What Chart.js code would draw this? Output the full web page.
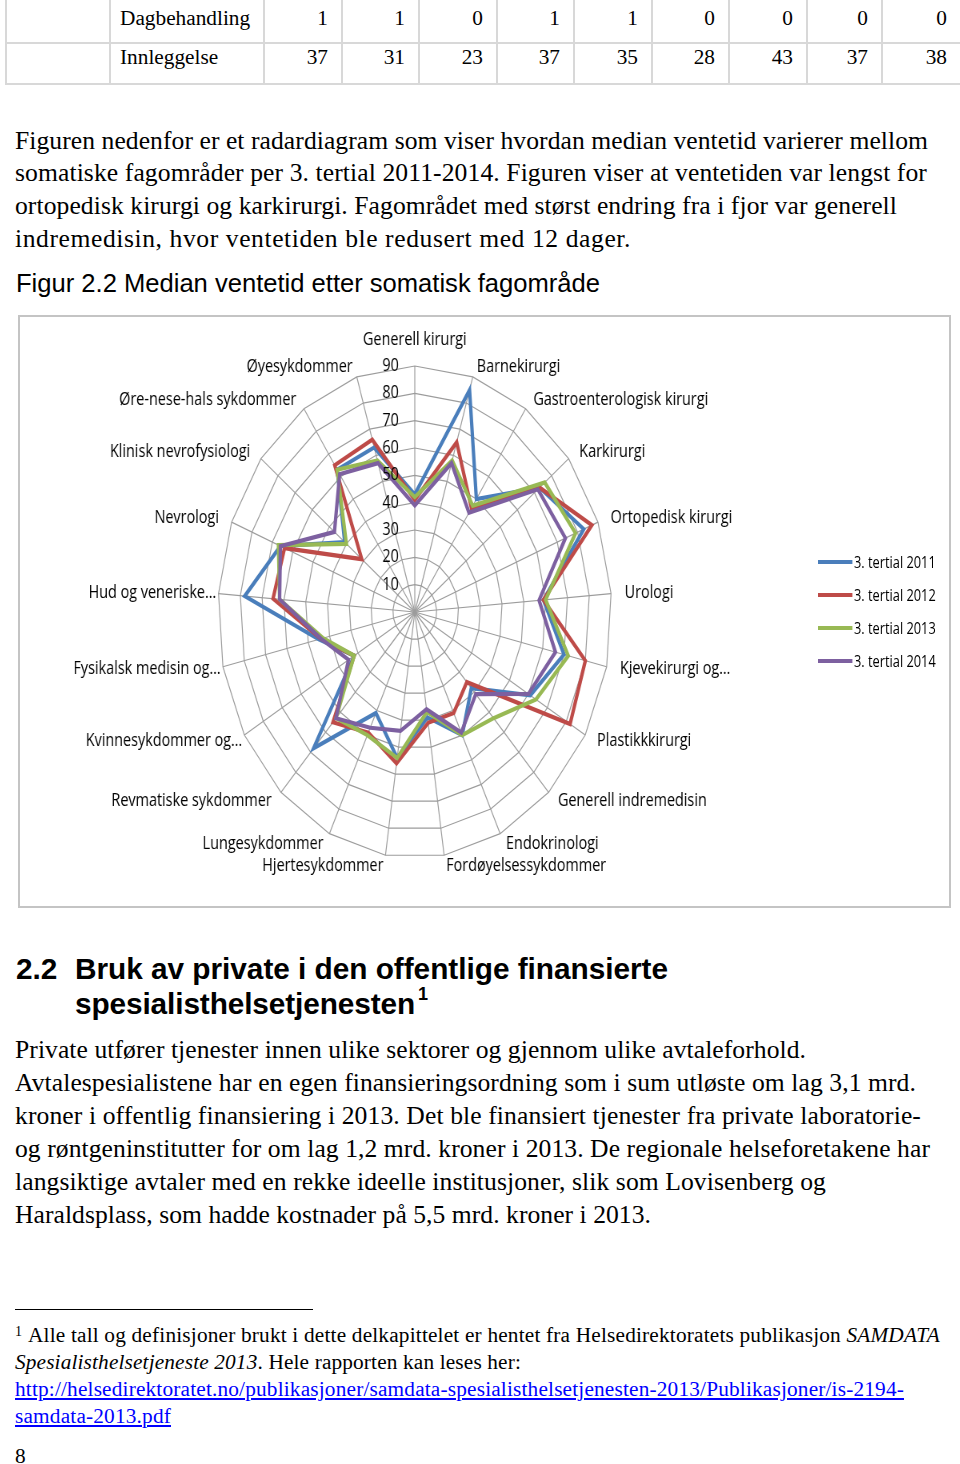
<!DOCTYPE html>
<html lang="no">
<head>
<meta charset="utf-8">
<title>Median ventetid etter somatisk fagområde</title>
<script src="https://cdn.jsdelivr.net/npm/chart.js@4.4.1/dist/chart.umd.min.js"></script>
<style>
  html, body { margin: 0; padding: 0; background: #fff; }
  body { position: relative; width: 960px; height: 1464px; overflow: hidden; color: #000; }
  .ln { position: absolute; white-space: nowrap; line-height: 1; }
  .serif { font-family: "Liberation Serif", "Times New Roman", serif; }
  .sans { font-family: "Liberation Sans", Arial, sans-serif; }
  .bold { font-weight: bold; }
  .grid { position: absolute; background: #d8d8d8; }
  #chartBox { position: absolute; left: 18px; top: 315px; width: 933px; height: 593px; box-sizing: border-box; border: 2px solid #c4c4c4; }
  #squish { position: absolute; left: 18px; top: 315px; width: 1165px; height: 592px; transform: scaleX(0.8); transform-origin: 0 0; }
  #legend div { position: absolute; }
  .leg-text { font-family: "Open Sans", sans-serif; font-size: 16px; line-height: 1; white-space: nowrap; }
  a { color: #0000ff; text-decoration: underline; }
  #rule { position: absolute; left: 15px; top: 1309px; width: 298px; height: 1px; background: #000; }
</style>
</head>
<body>

<div id="table"></div>

<div class="ln serif" data-b="149" data-w="913" style="left:15px;font-size:25.6px">Figuren nedenfor er et radardiagram som viser hvordan median ventetid varierer mellom</div>
<div class="ln serif" data-b="181.7" data-w="912" style="left:15px;font-size:25.6px">somatiske fagområder per 3. tertial 2011-2014. Figuren viser at ventetiden var lengst for</div>
<div class="ln serif" data-b="214.4" data-w="882" style="left:15px;font-size:25.6px">ortopedisk kirurgi og karkirurgi. Fagområdet med størst endring fra i fjor var generell</div>
<div class="ln serif" data-b="247" data-w="616" style="left:15px;font-size:25.6px">indremedisin, hvor ventetiden ble redusert med 12 dager.</div>

<div class="ln sans" data-b="293" data-w="584" style="left:16px;font-size:25.6px">Figur 2.2 Median ventetid etter somatisk fagområde</div>

<div id="chartBox"></div>
<div id="squish">
  <canvas id="radar" width="1165" height="592"></canvas>
  <div id="legend"></div>
</div>

<div class="ln sans bold" data-b="979" style="left:16px;font-size:29.8px">2.2</div>
<div class="ln sans bold" data-b="979" data-w="593" style="left:75px;font-size:29.8px">Bruk av private i den offentlige finansierte</div>
<div class="ln sans bold" data-b="1014.5" data-w="340" style="left:75px;font-size:29.8px">spesialisthelsetjenesten</div>
<div class="ln sans bold" data-b="1000" style="left:418px;font-size:18px">1</div>

<div class="ln serif" data-b="1058" data-w="791" style="left:15px;font-size:25.6px">Private utfører tjenester innen ulike sektorer og gjennom ulike avtaleforhold.</div>
<div class="ln serif" data-b="1091" data-w="901" style="left:15px;font-size:25.6px">Avtalespesialistene har en egen finansieringsordning som i sum utløste om lag 3,1 mrd.</div>
<div class="ln serif" data-b="1124" data-w="906" style="left:15px;font-size:25.6px">kroner i offentlig finansiering i 2013. Det ble finansiert tjenester fra private laboratorie-</div>
<div class="ln serif" data-b="1157" data-w="915" style="left:15px;font-size:25.6px">og røntgeninstitutter for om lag 1,2 mrd. kroner i 2013. De regionale helseforetakene har</div>
<div class="ln serif" data-b="1190" data-w="811" style="left:15px;font-size:25.6px">langsiktige avtaler med en rekke ideelle institusjoner, slik som Lovisenberg og</div>
<div class="ln serif" data-b="1223" data-w="636" style="left:15px;font-size:25.6px">Haraldsplass, som hadde kostnader på 5,5 mrd. kroner i 2013.</div>

<div id="rule"></div>
<div class="ln serif" data-b="1337" style="left:15px;font-size:14px">1</div>
<div class="ln serif" data-b="1343" data-w="912" style="left:28px;font-size:21.3px">Alle tall og definisjoner brukt i dette delkapittelet er hentet fra Helsedirektoratets publikasjon <i>SAMDATA</i></div>
<div class="ln serif" data-b="1370" data-w="506" style="left:15px;font-size:21.3px"><i>Spesialisthelsetjeneste 2013</i>. Hele rapporten kan leses her:</div>
<div class="ln serif" data-b="1397" data-w="889" style="left:15px;font-size:21.3px"><a>http://helsedirektoratet.no/publikasjoner/samdata-spesialisthelsetjenesten-2013/Publikasjoner/is-2194-</a></div>
<div class="ln serif" data-b="1424" data-w="156" style="left:15px;font-size:21.3px"><a>samdata-2013.pdf</a></div>
<div class="ln serif" data-b="1464" style="left:15px;font-size:21.3px">8</div>

<script>
// table above the figure
const rowLabels = ['Dagbehandling', 'Innleggelse'];
const dagValues = [1, 1, 0, 1, 1, 0, 0, 0, 0];
const innValues = [37, 31, 23, 37, 35, 28, 43, 37, 38];

// radar chart data
const categories = [
  'Generell kirurgi', 'Barnekirurgi', 'Gastroenterologisk kirurgi', 'Karkirurgi',
  'Ortopedisk kirurgi', 'Urologi', 'Kjevekirurgi og…', 'Plastikkkirurgi',
  'Generell indremedisin', 'Endokrinologi', 'Fordøyelsessykdommer', 'Hjertesykdommer',
  'Lungesykdommer', 'Revmatiske sykdommer', 'Kvinnesykdommer og…', 'Fysikalsk medisin og…',
  'Hud og veneriske…', 'Nevrologi', 'Klinisk nevrofysiologi', 'Øre-nese-hals sykdommer',
  'Øyesykdommer'
];
const seriesNames = ['3. tertial 2011', '3. tertial 2012', '3. tertial 2013', '3. tertial 2014'];
const t2011 = [43, 85, 50, 73, 83, 59, 70, 61, 38, 50, 39, 54, 41, 68, 32, 45, 78, 66, 41, 63, 63];
const t2012 = [41, 65, 46, 73, 87, 59, 80, 82, 35, 41, 41, 56, 49, 55, 32, 44, 65, 64, 31, 65, 66];
const t2013 = [42, 58, 47, 76, 79, 60, 72, 64, 53, 50, 37, 54, 50, 53, 32, 43, 62, 67, 40, 63, 58];
const t2014 = [39, 57, 44, 72, 74, 57, 66, 60, 41, 49, 36, 44, 47, 53, 35, 44, 62, 66, 47, 61, 57];
const tickValues = [10, 20, 30, 40, 50, 60, 70, 80, 90];

const seriesData = [t2011, t2012, t2013, t2014];
const seriesColors = ['#4a7ebb', '#be4b48', '#98b954', '#7d60a0'];

// --- table ---
const tbl = document.getElementById('table');
const colX = [5, 109, 263, 341, 418, 496, 573, 651, 728, 806, 881, 960];
const rowBase = [25.5, 65];

function box(x, y, w, h) {
  const d = document.createElement('div');
  d.className = 'grid';
  d.style.cssText = `left:${x}px;top:${y}px;width:${w}px;height:${h}px`;
  tbl.appendChild(d);
}
function cell(text, x, base, w, align) {
  const d = document.createElement('div');
  d.className = 'ln serif';
  d.dataset.b = base;
  d.textContent = text;
  d.style.cssText = `left:${x}px;font-size:21.3px;` + (w ? `width:${w}px;text-align:${align}` : '');
  tbl.appendChild(d);
}
colX.slice(0, -1).forEach(x => box(x, 0, 2, 85));
box(5, 42, 955, 2);
box(5, 83, 955, 2);
[dagValues, innValues].forEach((vals, r) => {
  cell(rowLabels[r], 120, rowBase[r]);
  vals.forEach((v, c) => {
    const left = colX[c + 2], right = colX[c + 3];
    cell(String(v), left, rowBase[r], right - left - 13, 'right');
  });
});

// place text lines on their baselines and stretch to the measured widths
document.querySelectorAll('.ln').forEach(el => {
  const fs = parseFloat(el.style.fontSize);
  const k = el.classList.contains('sans') ? 0.8465 : 0.8375;
  el.style.top = (el.dataset.b - k * fs) + 'px';
  if (el.dataset.w) {
    const w0 = el.getBoundingClientRect().width;
    const n = el.textContent.length;
    el.style.letterSpacing = ((el.dataset.w - w0) / n) + 'px';
  }
});

// --- legend (inside the squished box) ---
const legend = document.getElementById('legend');
seriesNames.forEach((name, i) => {
  const yc = 247 + 33 * i;
  const line = document.createElement('div');
  line.style.cssText = `left:1000px;top:${yc - 2}px;width:43px;height:4px;background:${seriesColors[i]}`;
  const txt = document.createElement('div');
  txt.className = 'leg-text';
  txt.style.cssText = `left:1045px;top:${yc - 8.5}px`;
  txt.textContent = name;
  legend.appendChild(line);
  legend.appendChild(txt);
});

// excel-like tick and category labels
const excelText = {
  id: 'excelText',
  afterDraw(chart) {
    const s = chart.scales.r;
    const ctx = chart.ctx;
    ctx.save();
    ctx.font = '18px "Open Sans"';
    ctx.fillStyle = '#000';
    ctx.textBaseline = 'middle';
    ctx.textAlign = 'right';
    tickValues.forEach(v => {
      ctx.fillText(String(v), s.xCenter - 20, s.yCenter - s.getDistanceFromCenterForValue(v));
    });
    categories.forEach((c, i) => {
      const p = s.getPointPosition(i, s.drawingArea);
      const sx = (p.x - s.xCenter) / s.drawingArea;
      const cy = (s.yCenter - p.y) / s.drawingArea;
      // truncated labels on the left sit closer to the ring
      const gap = (sx < 0 && c.endsWith('…')) ? 3 : 17;
      let x = p.x + gap * sx;
      let y = p.y - 11 * cy;
      if (i === 0) {
        ctx.textAlign = 'center';
        y = p.y - 26;
      } else {
        ctx.textAlign = sx > 0 ? 'left' : 'right';
      }
      ctx.fillText(c, x, y);
    });
    ctx.restore();
  }
};

new Chart(document.getElementById('radar'), {
  type: 'radar',
  data: {
    labels: categories,
    datasets: seriesNames.map((name, i) => ({
      label: name,
      data: seriesData[i],
      borderColor: seriesColors[i],
      backgroundColor: seriesColors[i],
      borderWidth: 4.2,
      pointRadius: 0,
      pointHoverRadius: 0,
      fill: false,
      order: seriesNames.length - i
    }))
  },
  options: {
    responsive: false,
    animation: false,
    events: [],
    layout: { padding: 0 },
    plugins: {
      legend: { display: false },
      tooltip: { enabled: false }
    },
    scales: {
      r: {
        min: 0,
        max: 90,
        ticks: { stepSize: 10, display: false },
        grid: { color: '#9c9c9c', lineWidth: 1.2 },
        angleLines: { color: '#9c9c9c', lineWidth: 1.2 },
        pointLabels: { display: false },
        afterSetDimensions: s => {
          s.xCenter = 496;
          s.yCenter = 297;
          s.drawingArea = 246;
        }
      }
    }
  },
  plugins: [excelText]
});
</script>
</body>
</html>
